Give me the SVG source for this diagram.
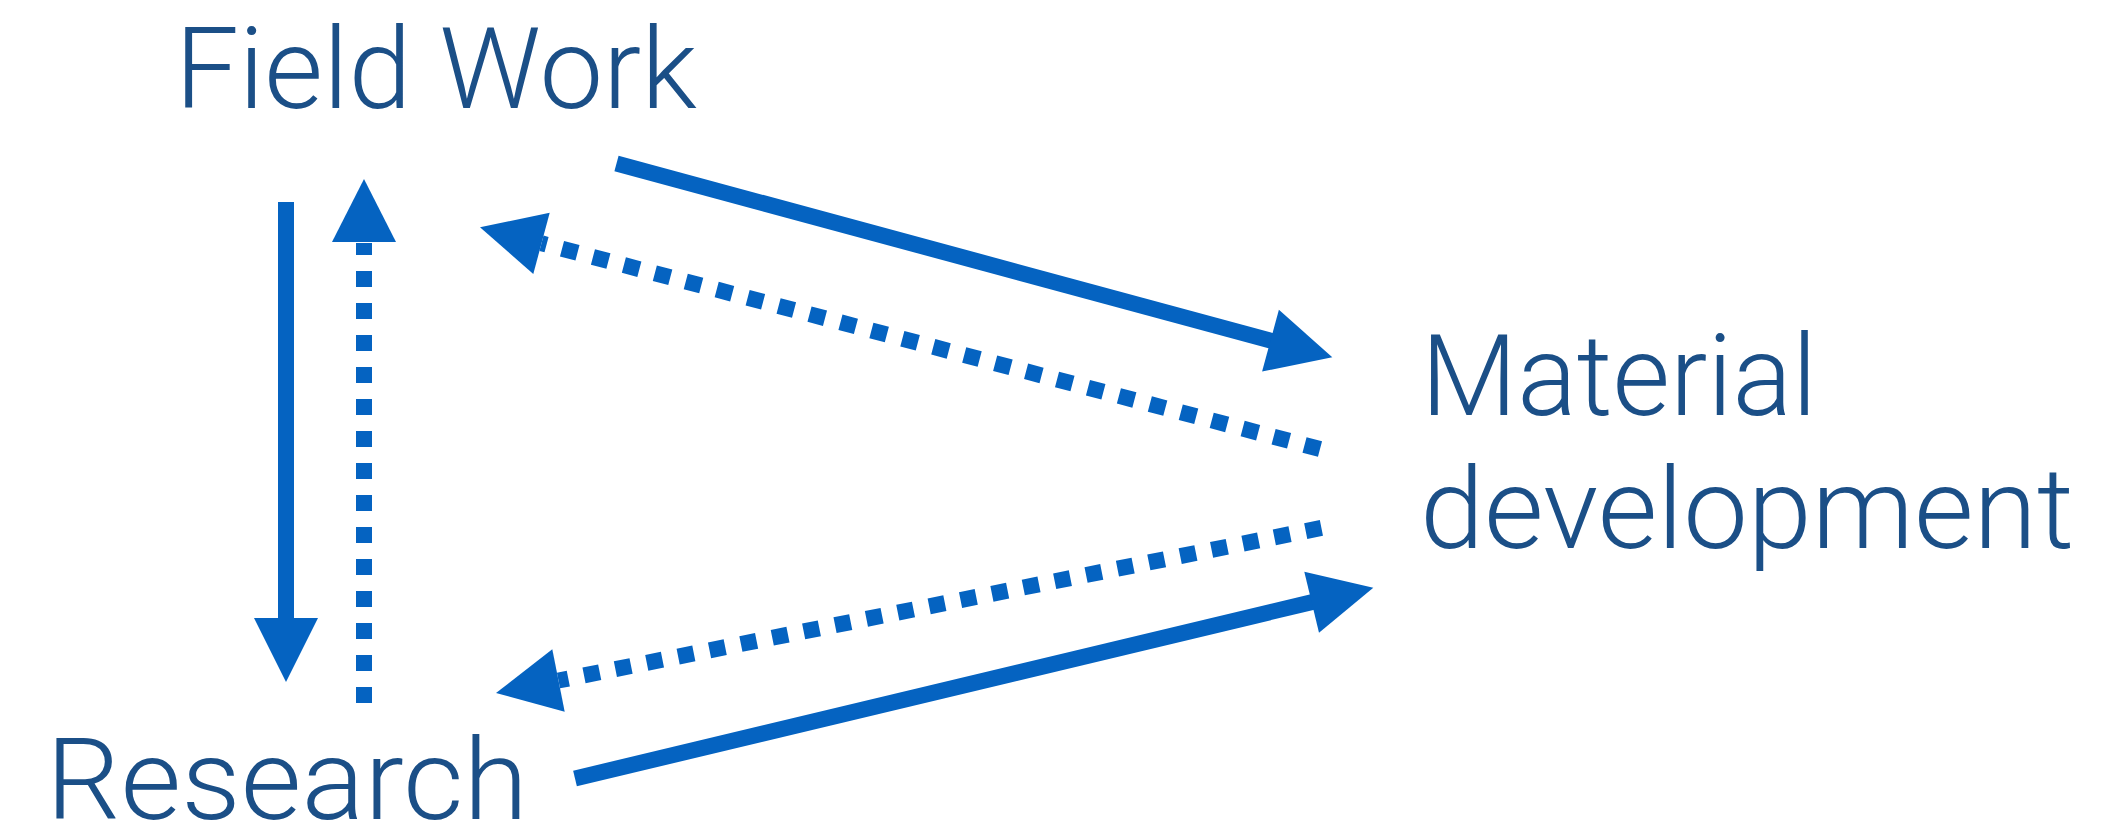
<svg xmlns="http://www.w3.org/2000/svg" width="2127" height="823" viewBox="0 0 2127 823">
  <style>
    .label { font-family: Roboto, "Liberation Sans", Arial, sans-serif; font-weight: 300; font-size: 113px; fill: #1B4F87; }
    .solid { fill: none; stroke: #0563C1; stroke-width: 16; stroke-linecap: butt; }
    .dotted { fill: none; stroke: #0563C1; stroke-width: 16; stroke-linecap: butt; stroke-dasharray: 16 16; }
    .head { fill: #0563C1; stroke: none; }
  </style>
  <rect width="2127" height="823" fill="#ffffff"/>

  <g id="node-field-work">
    <text class="label" x="175" y="108" textLength="522" lengthAdjust="spacingAndGlyphs">Field Work</text>
  </g>
  <g id="node-material-development">
    <text class="label" x="1421" y="415" textLength="396" lengthAdjust="spacingAndGlyphs">Material</text>
    <text class="label" x="1420" y="548" textLength="654" lengthAdjust="spacingAndGlyphs">development</text>
  </g>
  <g id="node-research">
    <text class="label" x="46" y="819" textLength="482" lengthAdjust="spacingAndGlyphs">Research</text>
  </g>

  <g id="connectors">
    <!-- Field Work to Research (solid, downward) -->
    <path class="solid" d="M286,202 V620"/>
    <polygon class="head" points="254,618 318,618 286,682"/>

    <!-- Research to Field Work (dotted, upward) -->
    <path class="dotted" d="M364,703 V243"/>
    <polygon class="head" points="332,242 396,242 364,179"/>

    <!-- Field Work to Material development (solid) -->
    <path class="solid" d="M616.5,163.5 L1272.4,341.1"/>
    <polygon class="head" points="1332.3,357.3 1262.1,371.5 1278.9,309.7"/>

    <!-- Material development to Field Work (dotted) -->
    <path class="dotted" d="M1320,449 L541.5,243.3"/>
    <polygon class="head" points="480,227.3 549.7,212.7 533.3,274"/>

    <!-- Material development to Research (dotted) -->
    <path class="dotted" d="M1321.4,527.9 L558.5,680.5"/>
    <polygon class="head" points="496,693 552.3,649.3 564.7,711.7"/>

    <!-- Research to Material development (solid) -->
    <path class="solid" d="M575,778.5 L1313.6,601.7"/>
    <polygon class="head" points="1373.3,587.7 1304.3,571.7 1319,632.7"/>
  </g>
</svg>
